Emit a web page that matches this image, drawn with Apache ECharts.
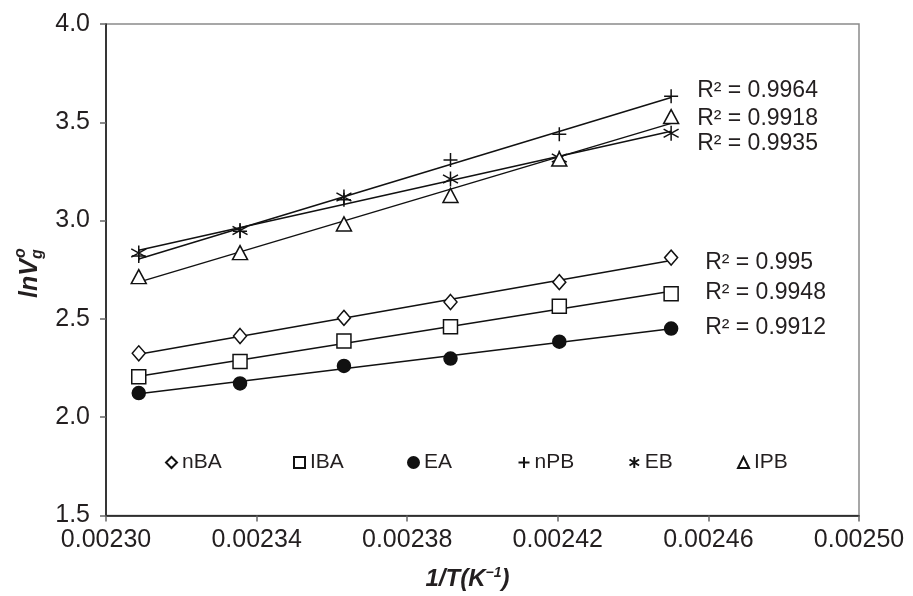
<!DOCTYPE html>
<html>
<head>
<meta charset="utf-8">
<script src="https://cdn.jsdelivr.net/npm/echarts@6/dist/echarts.min.js"></script>
<style>
html,body{margin:0;padding:0;background:#fff;}
#chart{width:913px;height:596px;}
</style>
</head>
<body>
<div id="chart"></div>
<script>
// ---- data ----
const invT = [0.0023087, 0.0023356, 0.0023632, 0.0023915, 0.0024204, 0.0024501];
const seriesNames = ['nBA', 'IBA', 'EA', 'nPB', 'EB', 'IPB'];
const nBA = [2.325, 2.413, 2.505, 2.586, 2.687, 2.812];
const IBA = [2.206, 2.283, 2.387, 2.460, 2.564, 2.628];
const EA  = [2.123, 2.172, 2.261, 2.298, 2.384, 2.451];
const nPB = [2.820, 2.946, 3.106, 3.308, 3.439, 3.633];
const EB  = [2.835, 2.950, 3.120, 3.212, 3.318, 3.444];
const IPB = [2.715, 2.837, 2.983, 3.128, 3.313, 3.529];
const r2Labels = ['R² = 0.995', 'R² = 0.9948', 'R² = 0.9912', 'R² = 0.9964', 'R² = 0.9935', 'R² = 0.9918'];
const xTicks = [0.00230, 0.00234, 0.00238, 0.00242, 0.00246, 0.00250];
const yMin = 1.5, yMax = 4.0, yStep = 0.5;

const values = {nBA, IBA, EA, nPB, EB, IPB};

// ---- styling ----
const FONT = 'Liberation Sans, Arial, sans-serif';
const INK = '#111';
const TXT = '#231f20';
const ASTER = 'path://M0,-1L0,1M-0.87,-0.55L0.87,0.55M-0.87,0.55L0.87,-0.55';
const PLUS = 'path://M0,-1L0,1M-1,0L1,0';
const markerStyle = {
  nBA: {symbol: 'diamond', size: [13, 15], fill: '#fff'},
  IBA: {symbol: 'rect', size: 14, fill: '#fff'},
  EA:  {symbol: 'circle', size: 13, fill: INK},
  nPB: {symbol: PLUS, size: 14, fill: 'none'},
  EB:  {symbol: ASTER, size: 15, fill: 'none'},
  IPB: {symbol: 'triangle', size: [15, 14], fill: '#fff'}
};
const labelOffset = {
  nBA: [26, 2], IBA: [26, 1], EA: [26, -1],
  nPB: [18, -7], EB: [18, 12], IPB: [18, -5]
};
const legendLeft = [165, 293, 407, 516, 627, 737];

// least-squares trendline (as the spreadsheet's linear trendline)
function trend(xs, ys) {
  const n = xs.length;
  const mx = xs.reduce((a, b) => a + b, 0) / n;
  const my = ys.reduce((a, b) => a + b, 0) / n;
  let sxy = 0, sxx = 0;
  for (let i = 0; i < n; i++) { sxy += (xs[i] - mx) * (ys[i] - my); sxx += (xs[i] - mx) ** 2; }
  const b = sxy / sxx, a = my - b * mx;
  return [[xs[0], a + b * xs[0]], [xs[n - 1], a + b * xs[n - 1]]];
}

const series = [];
seriesNames.forEach((name, k) => {
  const ys = values[name];
  const m = markerStyle[name];
  series.push({
    type: 'line',
    name: name + ' trend',
    data: trend(invT, ys),
    symbol: 'none',
    silent: true,
    z: 2,
    lineStyle: {color: INK, width: 1.5},
    endLabel: {
      show: true,
      formatter: r2Labels[k],
      offset: labelOffset[name],
      fontSize: 23,
      fontFamily: FONT,
      color: TXT
    }
  });
  series.push({
    type: 'scatter',
    name: name,
    data: invT.map((x, i) => [x, ys[i]]),
    symbol: m.symbol,
    symbolSize: m.size,
    z: 3,
    itemStyle: {color: m.fill, borderColor: INK, borderWidth: 1.5, opacity: 1}
  });
});

const legends = seriesNames.map((name, i) => ({
  data: [name],
  left: legendLeft[i],
  top: 452,
  padding: 0,
  itemWidth: 11,
  itemHeight: 11,
  itemGap: 0,
  selectedMode: false,
  textStyle: {fontSize: 21, color: TXT, fontFamily: FONT}
}));

const chart = echarts.init(document.getElementById('chart'), null, {renderer: 'canvas'});
chart.setOption({
  animation: false,
  backgroundColor: '#fff',
  grid: {left: 106, top: 24, right: 54, bottom: 77, show: true, borderColor: '#8a8a8a', borderWidth: 1.5, containLabel: false},
  legend: legends,
  xAxis: {
    type: 'value',
    min: xTicks[0],
    max: xTicks[xTicks.length - 1],
    axisLine: {show: true, onZero: false, lineStyle: {color: INK, width: 1.5}},
    axisTick: {show: true, length: 6, customValues: xTicks, lineStyle: {color: '#666', width: 1.5}},
    axisLabel: {customValues: xTicks, formatter: v => v.toFixed(5), fontSize: 25, color: TXT, fontFamily: FONT, margin: 12},
    splitLine: {show: false},
    name: '{b|1/T(K}{s|−1}{b|)}',
    nameLocation: 'middle',
    nameGap: 51,
    nameTextStyle: {
      padding: [0, 30, 0, 0],
      rich: {
        b: {fontSize: 24, fontWeight: 'bold', fontStyle: 'italic', fontFamily: FONT, color: TXT},
        s: {fontSize: 14, fontWeight: 'bold', fontStyle: 'italic', fontFamily: FONT, color: TXT, padding: [0, 0, 11, 0]}
      }
    }
  },
  yAxis: {
    type: 'value',
    min: yMin,
    max: yMax,
    interval: yStep,
    axisLine: {show: true, onZero: false, lineStyle: {color: INK, width: 1.5}},
    axisTick: {show: true, length: 6, lineStyle: {color: '#666', width: 1.5}},
    axisLabel: {formatter: v => v.toFixed(1), fontSize: 25, color: TXT, fontFamily: FONT, margin: 16},
    splitLine: {show: false}
  },
  graphic: [{
    type: 'group',
    x: 30,
    y: 298,
    rotation: Math.PI / 2,
    children: [
      {type: 'text', x: 0, y: 0, style: {text: 'lnV', font: 'italic bold 25px ' + FONT, fill: TXT, align: 'left', verticalAlign: 'middle'}},
      {type: 'text', x: 39, y: 8, style: {text: 'g', font: 'italic bold 16px ' + FONT, fill: TXT, align: 'left', verticalAlign: 'middle'}},
      {type: 'text', x: 40, y: -9, style: {text: 'o', font: 'italic bold 16px ' + FONT, fill: TXT, align: 'left', verticalAlign: 'middle'}}
    ]
  }],
  series: series
});
</script>
</body>
</html>
